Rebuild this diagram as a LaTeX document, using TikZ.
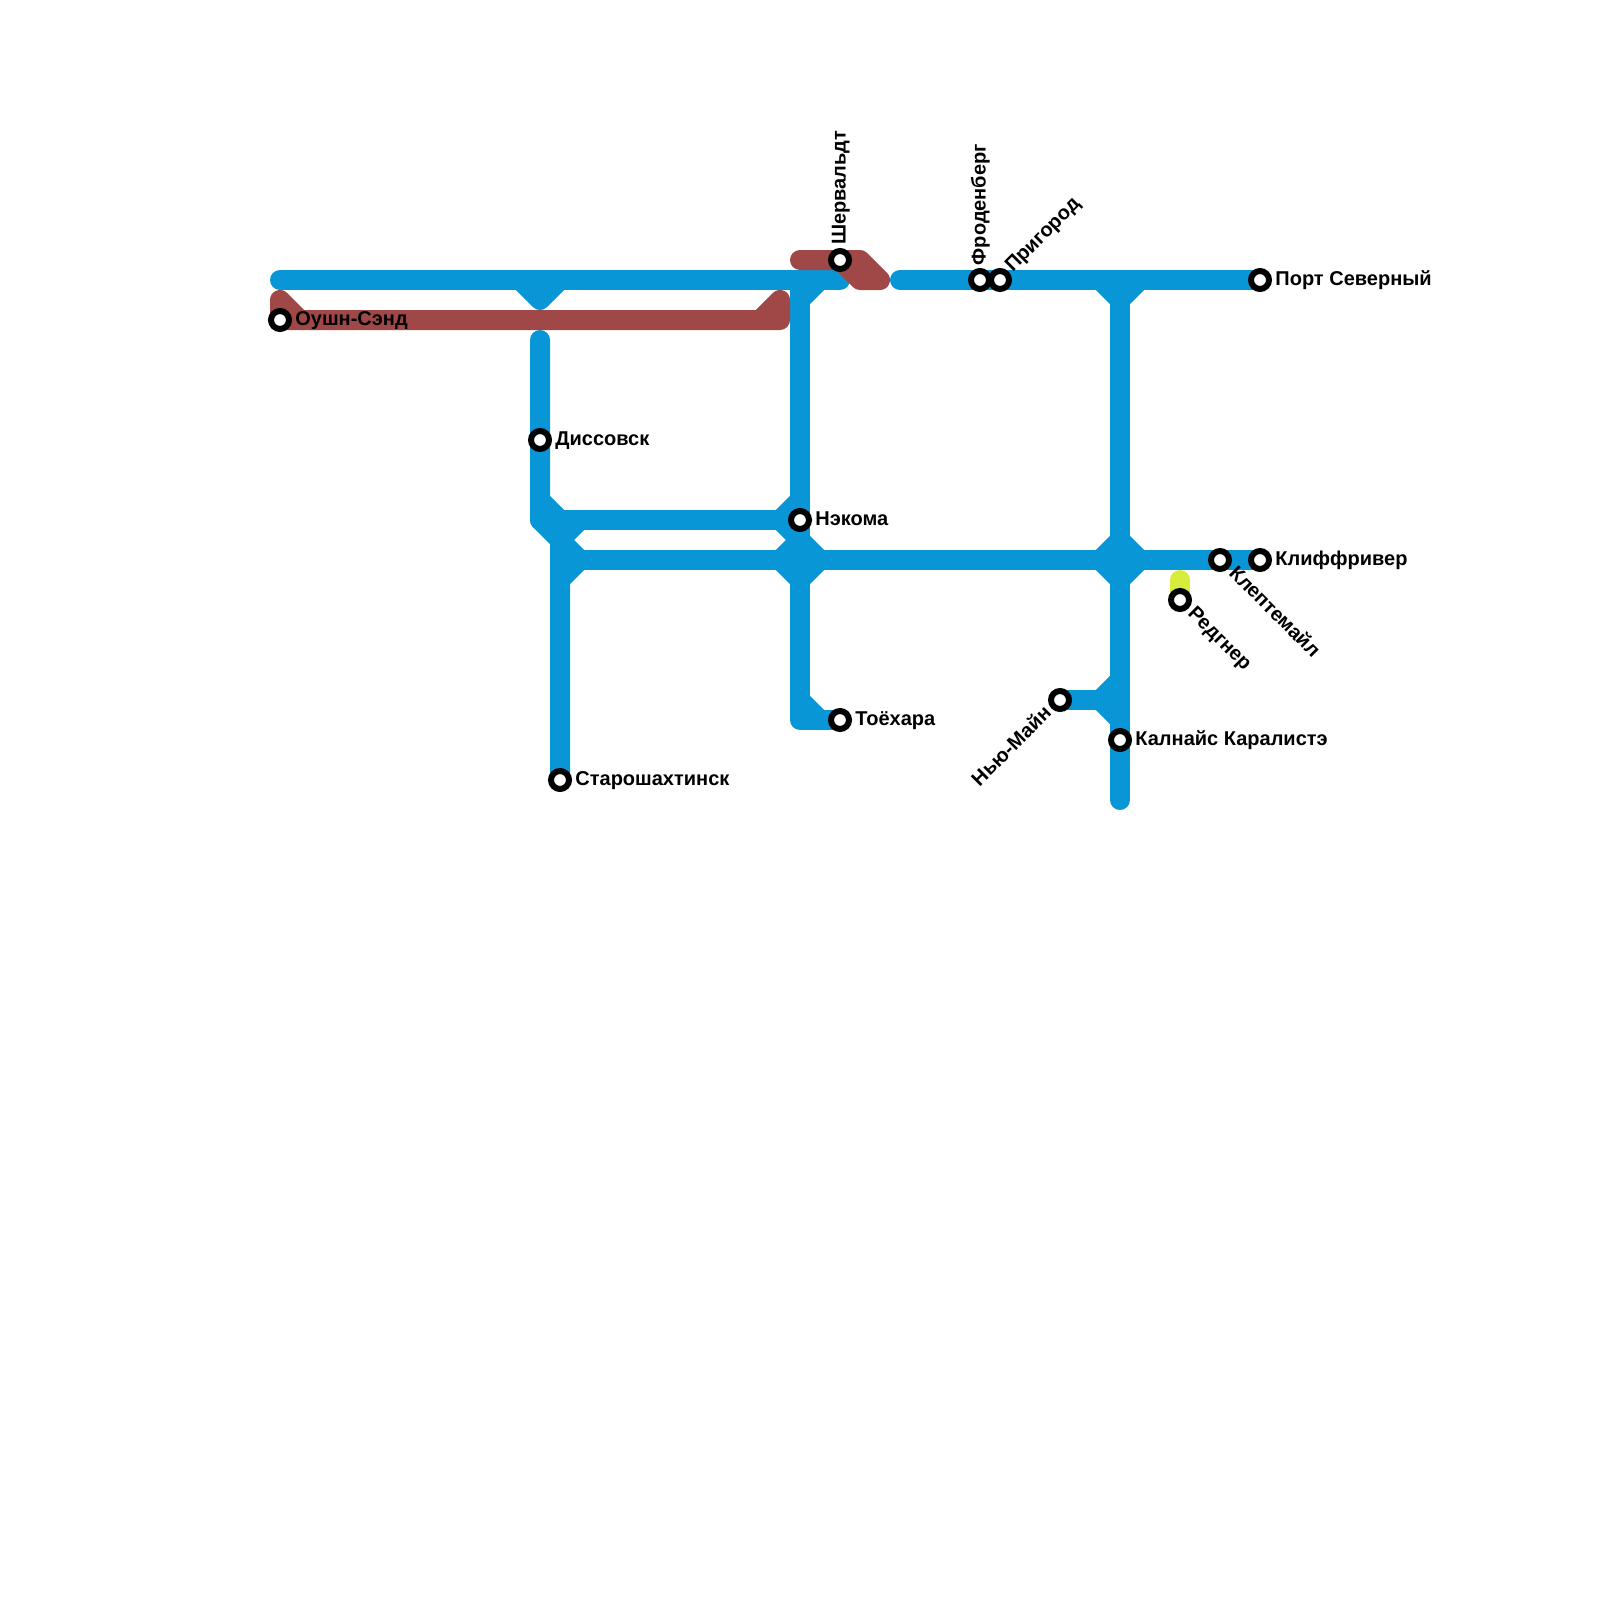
\documentclass[tikz,border=0pt]{standalone}
\usepackage{fontspec}
\setmainfont{Liberation Sans}
\usetikzlibrary{backgrounds,positioning}
\definecolor{metroblue}{HTML}{0896D7}
\definecolor{metrored}{HTML}{A04747}
\definecolor{metrolime}{HTML}{D8EC3C}

\begin{document}
\begin{tikzpicture}[
      x=10pt, y=-10pt,
      station/.style={
        draw=black, fill=white, circle, line width=3pt,
        minimum size=9pt, inner sep=0pt
      },
      lbl/.style={
        font=\fontsize{10}{12}\selectfont\bfseries, inner sep=0pt,
        text height=7.2pt, text depth=1.5pt
      },
      blueline/.style={draw=metroblue, line width=10pt, line cap=round, line join=round},
      redline/.style={draw=metrored, line width=10pt, line cap=round, line join=round},
      limeline/.style={draw=metrolime, line width=10pt, line cap=round, line join=round},
      node distance=1.5pt
    ]
    \useasboundingbox (0,0) rectangle (80,80);

    \node[station] (oushn) at (14,16) {};
    \node[station] (dissovsk) at (27,22) {};
    \node[station] (starosh) at (28,39) {};
    \node[station] (nekoma) at (40,26) {};
    \node[station] (toehara) at (42,36) {};
    \node[station] (sherv) at (42,13) {};
    \node[station] (froden) at (49,14) {};
    \node[station] (prigorod) at (50,14) {};
    \node[station] (port) at (63,14) {};
    \node[station] (cliff) at (63,28) {};
    \node[station] (klept) at (61,28) {};
    \node[station] (redgner) at (59,30) {};
    \node[station] (newmine) at (53,35) {};
    \node[station] (kalnais) at (56,37) {};

    \node[lbl, right=of oushn] (oushnlbl) {Оушн-Сэнд};
    \node[lbl, right=of dissovsk] (dissovsklbl) {Диссовск};
    \node[lbl, right=of starosh] (staroshlbl) {Старошахтинск};
    \node[lbl, right=of nekoma] (nekomalbl) {Нэкома};
    \node[lbl, right=of toehara] (toeharalbl) {Тоёхара};
    \node[lbl, right=of port] (portlbl) {Порт Северный};
    \node[lbl, right=of cliff] (clifflbl) {Клиффривер};
    \node[lbl, right=of kalnais] (kalnaislbl) {Калнайс Каралистэ};
    \node[lbl, shift={(0pt,1.5pt)}, rotate=90, anchor=west, at={(sherv.north)}] (shervlbl) {Шервальдт};
    \node[lbl, shift={(0pt,1.2pt)}, rotate=90, anchor=west, at={(froden.north)}] (frodenlbl) {Фроденберг};
    \node[lbl, shift={(0pt,1.2pt)}, rotate=45, anchor=west, at={(prigorod.45)}] (prigorodlbl) {Пригород};
    \node[lbl, shift={(1.7pt,-0.8pt)}, rotate=-45, anchor=west, at={(klept.-45)}] (kleptlbl) {Клептемайл};
    \node[lbl, shift={(1.2pt,-0.8pt)}, rotate=-45, anchor=west, at={(redgner.-45)}] (redgnerlbl) {Редгнер};
    \node[lbl, shift={(-1.4pt,-0.8pt)}, rotate=45, anchor=east, at={(newmine.-135)}] (newminelbl) {Нью-Майн};

    % bends and line ends
    \coordinate (topw) at (14,14);
    \coordinate (tope) at (42,14);
    \coordinate (vleft) at (26,14);
    \coordinate (vtip) at (27,15);
    \coordinate (vright) at (28,14);
    \coordinate (shaft) at (27,17);
    \coordinate (wup) at (27,25);
    \coordinate (wbend) at (27,26);
    \coordinate (winner) at (28,26);
    \coordinate (wne) at (29,26);
    \coordinate (wmid) at (28,27);
    \coordinate (wrow) at (28,28);
    \coordinate (wse) at (29,28);
    \coordinate (wlow) at (28,29);
    \coordinate (ctop) at (40,14);
    \coordinate (cne) at (41,14);
    \coordinate (csh) at (40,15);
    \coordinate (cup) at (40,25);
    \coordinate (cnw) at (39,26);
    \coordinate (cmid) at (40,27);
    \coordinate (cw) at (39,28);
    \coordinate (ce) at (41,28);
    \coordinate (clow) at (40,29);
    \coordinate (cfoot) at (40,35);
    \coordinate (cbend) at (40,36);
    \coordinate (cfe) at (41,36);
    \coordinate (rstart) at (45,14);
    \coordinate (etop) at (56,14);
    \coordinate (enw) at (55,14);
    \coordinate (ene) at (57,14);
    \coordinate (esh) at (56,15);
    \coordinate (ejn) at (56,27);
    \coordinate (ejw) at (55,28);
    \coordinate (eje) at (57,28);
    \coordinate (ejs) at (56,29);
    \coordinate (nmw) at (55,35);
    \coordinate (nmup) at (56,34);
    \coordinate (nmlow) at (56,36);
    \coordinate (ebot) at (56,40);
    \coordinate (rw) at (14,15);
    \coordinate (rwd) at (15,16);
    \coordinate (re) at (39,16);
    \coordinate (rc) at (39,15);
    \coordinate (rd) at (38,16);
    \coordinate (tw) at (40,13);
    \coordinate (tn) at (43,13);
    \coordinate (te) at (44,14);
    \coordinate (tb) at (43,14);
    \coordinate (lime) at (59,29);

    \begin{scope}[on background layer]
      \draw[blueline] (topw) -- (tope);
      \draw[blueline] (vleft) -- (vtip) -- (vright);
      \draw[blueline] (shaft) -- (dissovsk.center) -- (wbend) -- (wmid) -- (wlow) -- (starosh.center);
      \draw[blueline] (wup) -- (winner);
      \draw[blueline] (wbend) -- (nekoma.center);
      \draw[blueline] (wne) -- (wmid) -- (wse) -- (wlow);
      \draw[blueline] (wrow) -- (cliff.center);
      \draw[blueline] (ctop) -- (cbend) -- (toehara.center);
      \draw[blueline] (cne) -- (csh);
      \draw[blueline] (cup) -- (cnw) -- (cmid) -- (cw) -- (clow) -- (ce) -- (cmid);
      \draw[blueline] (cfoot) -- (cfe);
      \draw[blueline] (rstart) -- (port.center);
      \draw[blueline] (etop) -- (ebot);
      \draw[blueline] (enw) -- (esh) -- (ene);
      \draw[blueline] (ejw) -- (ejn) -- (eje) -- (ejs) -- cycle;
      \draw[blueline] (newmine.center) -- (nmw);
      \draw[blueline] (nmup) -- (nmw) -- (nmlow);
      \draw[redline] (rwd) -- (rw) -- (oushn.center) -- (re) -- (rc) -- (rd);
      \draw[redline] (tw) -- (tn) -- (te) -- (tb) -- (sherv.center);
      \draw[limeline] (lime) -- (redgner.center);
    \end{scope}
  \end{tikzpicture}
\end{document}
